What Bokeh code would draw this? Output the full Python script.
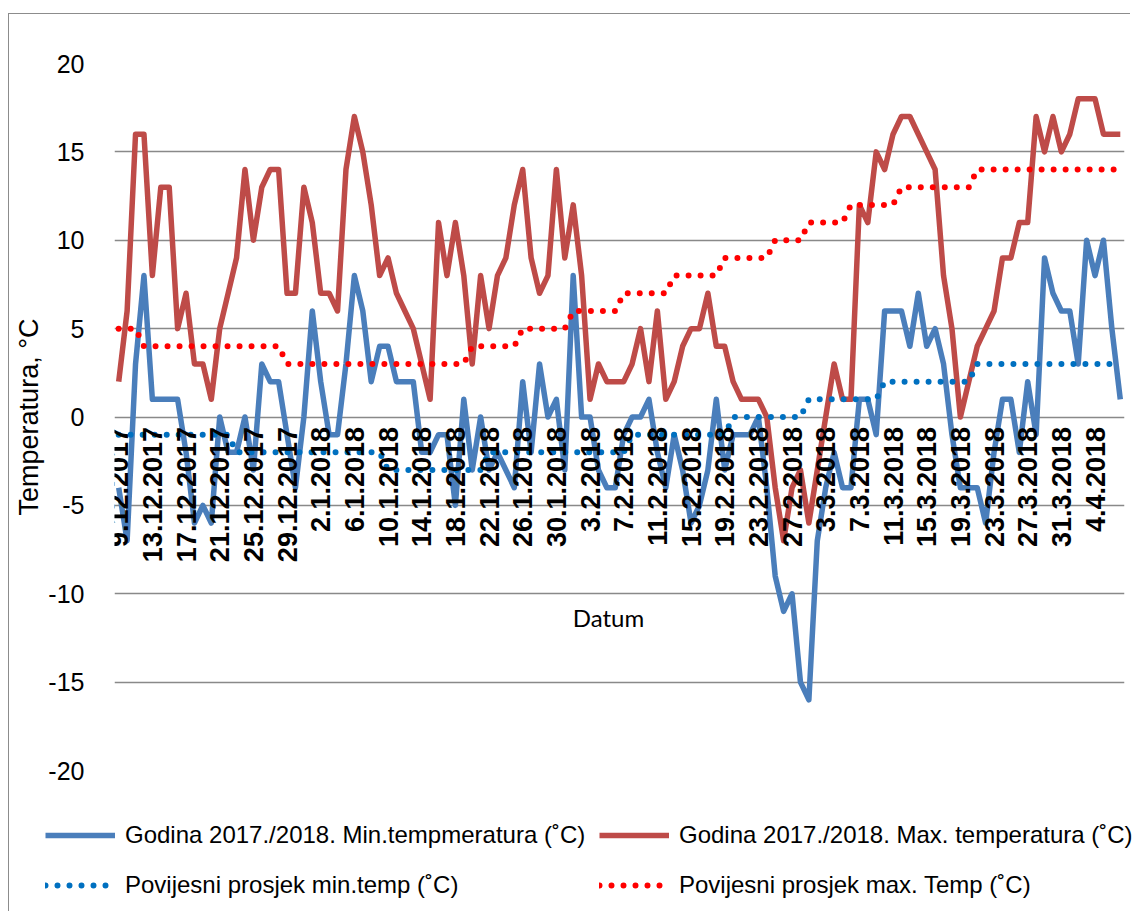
import math
from bokeh.plotting import figure
from bokeh.models import Range1d, FixedTicker, Legend, LegendItem, Label, ColumnDataSource
from bokeh.core.properties import value
from bokeh.embed import file_html
from bokeh.resources import INLINE

# ---------------- data ----------------
day = list(range(120))  # 9.12.2017 ... 7.4.2018

tick_pos = [0, 4, 8, 12, 16, 20, 24, 28, 32, 36, 40, 44, 48, 52, 56,
            60, 64, 68, 72, 76, 80, 84, 88, 92, 96, 100, 104, 108, 112, 116]
tick_labels = ["9.12.2017", "13.12.2017", "17.12.2017", "21.12.2017", "25.12.2017",
               "29.12.2017", "2.1.2018", "6.1.2018", "10.1.2018", "14.1.2018",
               "18.1.2018", "22.1.2018", "26.1.2018", "30.1.2018", "3.2.2018",
               "7.2.2018", "11.2.2018", "15.2.2018", "19.2.2018", "23.2.2018",
               "27.2.2018", "3.3.2018", "7.3.2018", "11.3.2018", "15.3.2018",
               "19.3.2018", "23.3.2018", "27.3.2018", "31.3.2018", "4.4.2018"]

min_temp = [-4, -7, 3, 8, 1, 1, 1, 1, -2, -6,
            -5, -6, 0, -2, -2, 0, -3, 3, 2, 2,
            -1, -4, 0, 6, 2, -1, -1, 3, 8, 6,
            2, 4, 4, 2, 2, 2, -2, -2, -1, -1,
            -5, 1, -3, 0, -3, -2, -3, -4, 2, -2,
            3, 0, 1, -3, 8, 0, 0, -3, -4, -4,
            -1, 0, 0, 1, -2, -4, -1, -3, -6, -5,
            -3, 1, -3, -1, -1, -1, 0, -4, -9, -11,
            -10, -15, -16, -7, -4, -2, -4, -4, 1, 1,
            -1, 6, 6, 6, 4, 7, 4, 5, 3, -1,
            -4, -4, -4, -6, -2, 1, 1, -2, 2, -1,
            9, 7, 6, 6, 3, 10, 8, 10, 5, 1]

max_temp = [2, 6, 16, 16, 8, 13, 13, 5, 7, 3,
            3, 1, 5, 7, 9, 14, 10, 13, 14, 14,
            7, 7, 13, 11, 7, 7, 6, 14, 17, 15,
            12, 8, 9, 7, 6, 5, 3, 1, 11, 8,
            11, 8, 3, 8, 5, 8, 9, 12, 14, 9,
            7, 8, 14, 9, 12, 8, 1, 3, 2, 2,
            2, 3, 5, 2, 6, 1, 2, 4, 5, 5,
            7, 4, 4, 2, 1, 1, 1, 0, -4, -7,
            -4, -3, -6, -3, 0, 3, 1, 1, 12, 11,
            15, 14, 16, 17, 17, 16, 15, 14, 8, 5,
            0, 2, 4, 5, 6, 9, 9, 11, 11, 17,
            15, 17, 15, 16, 18, 18, 18, 16, 16, 16]

hist_min = [-1, -1, -1, -1, -1, -1, -1, -1, -1, -1,
            -1, -1, -1, -1, -2, -2, -2, -2, -2, -2,
            -2, -2, -2, -2, -2, -2, -2, -2, -2, -2,
            -2, -2, -3, -3, -3, -3, -3, -3, -3, -3,
            -3, -3, -3, -3, -2, -2, -2, -2, -2, -2,
            -2, -2, -2, -2, -2, -2, -2, -2, -2, -2,
            -2, -1, -1, -1, -1, -1, -1, -1, -1, -1,
            -1, -1, -1, 0, 0, 0, 0, 0, 0, 0,
            0, 0, 1, 1, 1, 1, 1, 1, 1, 1,
            1, 2, 2, 2, 2, 2, 2, 2, 2, 2,
            2, 2, 3, 3, 3, 3, 3, 3, 3, 3,
            3, 3, 3, 3, 3, 3, 3, 3, 3, 3]

hist_max = [5, 5, 5, 4, 4, 4, 4, 4, 4, 4,
            4, 4, 4, 4, 4, 4, 4, 4, 4, 4,
            3, 3, 3, 3, 3, 3, 3, 3, 3, 3,
            3, 3, 3, 3, 3, 3, 3, 3, 3, 3,
            3, 3, 4, 4, 4, 4, 4, 4, 5, 5,
            5, 5, 5, 5, 6, 6, 6, 6, 6, 6,
            7, 7, 7, 7, 7, 7, 8, 8, 8, 8,
            8, 8, 9, 9, 9, 9, 9, 9, 10, 10,
            10, 10, 11, 11, 11, 11, 11, 12, 12, 12,
            12, 12, 12, 13, 13, 13, 13, 13, 13, 13,
            13, 13, 14, 14, 14, 14, 14, 14, 14, 14,
            14, 14, 14, 14, 14, 14, 14, 14, 14, 14]

y_ticks = [-20, -15, -10, -5, 0, 5, 10, 15, 20]

series_labels = ["Godina 2017./2018. Min.tempmeratura (\u02daC)",
                 "Godina 2017./2018. Max. temperatura (\u02daC)",
                 "Povijesni prosjek min.temp (\u02daC)",
                 "Povijesni prosjek max. Temp (\u02daC)"]

source = ColumnDataSource(dict(day=day, tmin=min_temp, tmax=max_temp,
                               hmin=hist_min, hmax=hist_max))

# ---------------- styles ----------------
S_MIN = dict(line_color="#4a7ebb", line_width=5.5, line_join="round")
S_MAX = dict(line_color="#be4b48", line_width=5.5, line_join="round")
S_HMIN = dict(line_color="#0070c0", line_width=6, line_dash="0 12", line_cap="round")
S_HMAX = dict(line_color="#ff0000", line_width=6, line_dash="0 12", line_cap="round")

# ---------------- main figure ----------------
p = figure(width=1122, height=786,
           x_range=Range1d(-0.5, len(day) - 0.5), y_range=Range1d(-20, 20),
           output_backend="svg", toolbar_location=None,
           min_border_left=105, min_border_right=7,
           min_border_top=49, min_border_bottom=30)
p.styles = {"margin-left": "8px", "margin-top": "13px",
            "border-left": "1px solid #8c8c8c", "border-top": "1px solid #8c8c8c"}
p.outline_line_color = None
p.background_fill_color = "white"
p.border_fill_color = "white"

p.xaxis.visible = False
p.xgrid.visible = False
p.ygrid.ticker = FixedTicker(ticks=y_ticks)
p.ygrid.grid_line_color = "#898989"
p.ygrid.grid_line_width = 1.5

ax = p.yaxis[0]
ax.ticker = FixedTicker(ticks=y_ticks)
ax.major_label_overrides = {t: str(t) for t in y_ticks}
ax.axis_line_color = None
ax.major_tick_line_color = None
ax.minor_tick_line_color = None
ax.major_label_standoff = 24
ax.major_label_text_font = "Liberation Sans"
ax.major_label_text_font_size = "25px"
ax.major_label_text_color = "black"
ax.axis_label = "Temperatura, \u00b0C"
ax.axis_label_text_font = "Liberation Sans"
ax.axis_label_text_font_size = "27px"
ax.axis_label_text_font_style = "normal"
ax.axis_label_text_color = "black"
ax.axis_label_standoff = 1

p.line("day", "tmin", source=source, **S_MIN)
p.line("day", "tmax", source=source, **S_MAX)
p.line("day", "hmin", source=source, **S_HMIN)
p.line("day", "hmax", source=source, **S_HMAX)

# category labels on the horizontal axis that crosses at 0
src = ColumnDataSource(dict(x=tick_pos, y=[0] * len(tick_pos), t=tick_labels))
p.text(x="x", y="y", text="t", source=src, angle=math.pi / 2,
       text_align="right", text_baseline="middle", y_offset=10,
       text_font=value("Liberation Sans"), text_font_style="bold",
       text_font_size="27px", text_color="black")

p.add_layout(Label(x=494, y=153, x_units="screen", y_units="screen", text="Datum",
                   text_align="center", text_baseline="middle",
                   text_font="Lato", text_font_size="24px", text_color="black"))

# ---------------- legend strip (separate root, same series) ----------------
pl = figure(width=1130, height=112, x_range=Range1d(-0.5, len(day) - 0.5),
            y_range=Range1d(40, 41),   # series lie outside this view; only the legend shows
            output_backend="svg", toolbar_location=None,
            min_border_left=0, min_border_right=0, min_border_top=0, min_border_bottom=0)
pl.styles = {"margin-left": "8px", "border-left": "1px solid #8c8c8c"}
pl.axis.visible = False
pl.grid.visible = False
pl.outline_line_color = None
pl.background_fill_color = "white"
pl.border_fill_color = "white"

e_min = pl.line("day", "tmin", source=source, **S_MIN)
e_max = pl.line("day", "tmax", source=source, **S_MAX)
e_hmin = pl.line("day", "hmin", source=source, **S_HMIN)
e_hmax = pl.line("day", "hmax", source=source, **S_HMAX)

def make_legend(items, x):
    return Legend(items=items, location=(x, 12), orientation="vertical",
                  padding=0, margin=0, spacing=22, glyph_width=70, glyph_height=28,
                  label_height=28, label_standoff=10,
                  label_text_font="Liberation Sans", label_text_font_size="24px",
                  label_text_color="black", border_line_color=None,
                  background_fill_alpha=0)

pl.add_layout(make_legend([LegendItem(label=series_labels[0], renderers=[e_min]),
                           LegendItem(label=series_labels[2], renderers=[e_hmin])], 36))
pl.add_layout(make_legend([LegendItem(label=series_labels[1], renderers=[e_max]),
                           LegendItem(label=series_labels[3], renderers=[e_hmax])], 590))

open("out.html", "w").write(file_html([p, pl], INLINE))
